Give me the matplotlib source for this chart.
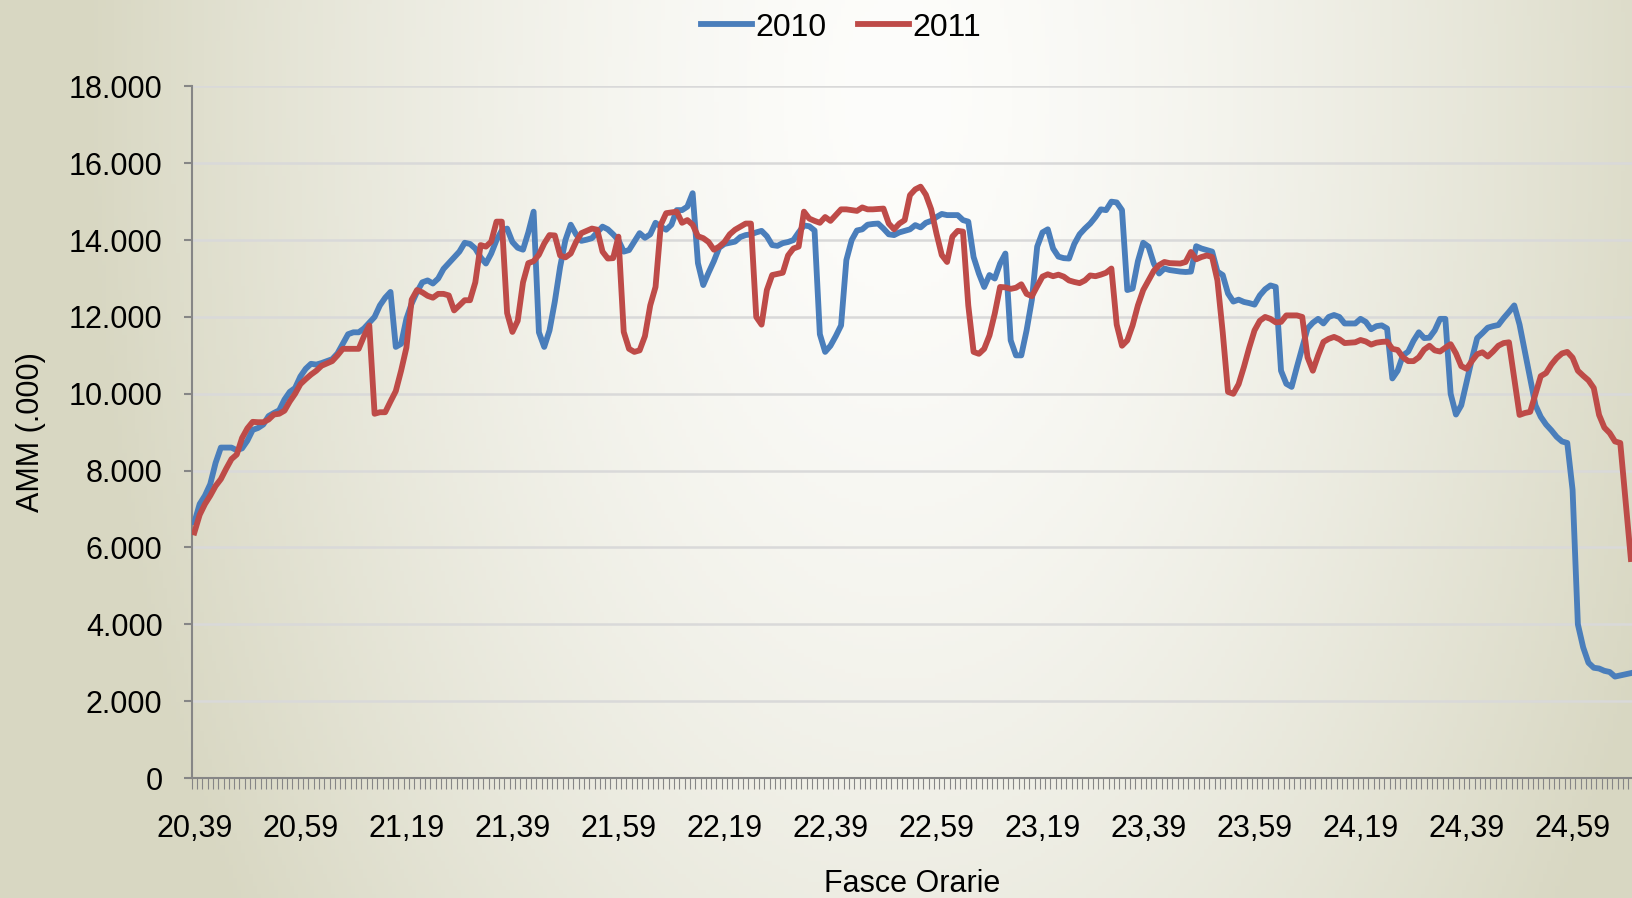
import numpy as np
import matplotlib.pyplot as plt
from matplotlib.ticker import FixedLocator, FuncFormatter

# AMM (.000) minute by minute, from 20,39 on
amm_2010 = [
    6650, 7130, 7350, 7650, 8200, 8600, 8600, 8600, 8530, 8580,
    8780, 9060, 9110, 9200, 9420, 9500, 9570, 9850, 10050, 10150,
    10450, 10650, 10780, 10760, 10800, 10850, 10900, 11050, 11300, 11550, 11600,
    11600, 11700, 11850, 12000, 12300, 12500, 12650, 11220, 11300, 11950,
    12350, 12650, 12900, 12950, 12870, 13000, 13250, 13400, 13550, 13700,
    13930, 13900, 13780, 13550, 13390, 13650, 14000, 14250, 14300, 13950,
    13800, 13750, 14200, 14740, 11600, 11220, 11650, 12400, 13300, 14000,
    14400, 14150, 13980, 14010, 14050, 14200, 14350, 14280, 14150, 14000, 13700,
    13740, 13960, 14180, 14060, 14150, 14450, 14350, 14270, 14400, 14780,
    14780, 14870, 15220, 13400, 12830, 13150, 13450, 13800, 13900, 13930,
    13960, 14080, 14130, 14150, 14200, 14240, 14100, 13870, 13850, 13920,
    13950, 14000, 14200, 14380, 14360, 14250, 11550, 11090, 11250, 11500,
    11780, 13480, 14000, 14250, 14280, 14400, 14420, 14430, 14300, 14150, 14130,
    14200, 14240, 14280, 14390, 14330, 14450, 14500, 14600, 14680, 14650,
    14650, 14650, 14520, 14480, 13560, 13130, 12780, 13090, 13000, 13390,
    13650, 11390, 11000, 11000, 11650, 12450, 13830, 14200, 14280, 13780,
    13570, 13530, 13520, 13900, 14150, 14300, 14430, 14600, 14800, 14780,
    15000, 14980, 14780, 12700, 12740, 13450, 13930, 13830, 13390, 13130,
    13260, 13220, 13200, 13180, 13170, 13180, 13840, 13780, 13740, 13700, 13180,
    13090, 12610, 12400, 12450, 12390, 12360, 12320, 12560, 12720, 12820,
    12780, 10600, 10260, 10180, 10700, 11200, 11700, 11850, 11950, 11830,
    12000, 12050, 12000, 11830, 11830, 11830, 11950, 11870, 11680, 11760, 11780,
    11700, 10400, 10600, 11000, 11100, 11380, 11600, 11450, 11460, 11650,
    11950, 11950, 10000, 9460, 9700, 10300, 10900, 11450, 11580, 11720,
    11760, 11790, 11970, 12130, 12300, 11800, 11100, 10400, 9700, 9400,
    9200, 9050, 8880, 8760, 8720, 7500, 4000, 3400, 3000, 2870,
    2850, 2790, 2760, 2640, 2670, 2700, 2730,
]

amm_2011 = [
    6390, 6850, 7130, 7350, 7600, 7780, 8050, 8300, 8420, 8850,
    9100, 9270, 9260, 9260, 9330, 9460, 9480, 9560, 9800, 10000,
    10250, 10380, 10500, 10600, 10730, 10790, 10850, 11000, 11170, 11170, 11170,
    11170, 11500, 11780, 9480, 9520, 9520, 9800, 10070, 10600, 11200,
    12450, 12700, 12640, 12550, 12500, 12600, 12600, 12560, 12170, 12300,
    12435, 12435, 12900, 13870, 13830, 13960, 14480, 14480, 12100, 11610,
    11900, 12900, 13400, 13450, 13620, 13910, 14130, 14120, 13600, 13550,
    13650, 13950, 14180, 14240, 14300, 14270, 13700, 13520, 13530, 14090, 11610,
    11170, 11090, 11130, 11500, 12300, 12780, 14400, 14700, 14720, 14740,
    14450, 14520, 14400, 14100, 14050, 13950, 13750, 13830, 13950, 14150,
    14270, 14350, 14430, 14430, 12000, 11800, 12700, 13090, 13120, 13150,
    13600, 13780, 13830, 14740, 14560, 14500, 14450, 14600, 14500, 14650,
    14800, 14800, 14780, 14760, 14850, 14800, 14800, 14810, 14820, 14430, 14280,
    14430, 14520, 15170, 15320, 15390, 15180, 14800, 14170, 13610, 13430,
    14090, 14240, 14220, 12300, 11090, 11040, 11170, 11520, 12090, 12780,
    12770, 12730, 12760, 12850, 12600, 12540, 12800, 13050, 13110, 13060,
    13100, 13050, 12950, 12910, 12880, 12950, 13080, 13060, 13100, 13150,
    13260, 11800, 11250, 11390, 11780, 12300, 12700, 12950, 13200, 13350,
    13430, 13400, 13395, 13390, 13430, 13690, 13500, 13560, 13600, 13560, 12950,
    11600, 10050, 10000, 10250, 10700, 11200, 11650, 11900, 12000, 11950,
    11860, 11870, 12040, 12040, 12040, 12000, 10950, 10600, 11000, 11350,
    11430, 11480, 11420, 11320, 11330, 11340, 11400, 11360, 11280, 11330, 11350,
    11360, 11170, 11140, 10950, 10850, 10850, 10950, 11150, 11250, 11130,
    11100, 11200, 11290, 11050, 10720, 10650, 10850, 11030, 11080, 10970,
    11100, 11250, 11320, 11340, 10400, 9450, 9500, 9530, 10000, 10460,
    10540, 10760, 10930, 11050, 11090, 10940, 10600, 10470, 10350, 10150,
    9450, 9120, 8980, 8760, 8720, 7200, 5700,
]

tick_labels = ['20,39', '20,59', '21,19', '21,39', '21,59', '22,19', '22,39',
               '22,59', '23,19', '23,39', '23,59', '24,19', '24,39', '24,59']
label_step = 20

plt.rcParams['font.family'] = ['Liberation Sans', 'DejaVu Sans']

fig = plt.figure(figsize=(16.33, 8.98), dpi=100)

# soft beige-to-white background
bg = fig.add_axes([0, 0, 1, 1], zorder=-10)
gx, gy = np.meshgrid(np.linspace(0, 1, 400), np.linspace(0, 1, 220))
d = np.sqrt(((gx - 0.55) / 0.5) ** 2 + ((gy - 0.1) / 1.6) ** 2)
t = np.clip(d, 0, 1) ** 1.5
c_in = np.array([253, 253, 251]) / 255
c_out = np.array([216, 215, 194]) / 255
img = c_in[None, None, :] * (1 - t[..., None]) + c_out[None, None, :] * t[..., None]
bg.imshow(img, aspect='auto', extent=[0, 1, 0, 1], origin='upper')
bg.axis('off')

ax = fig.add_axes([0.1174, 0.1336, 0.8826, 0.7702])
ax.set_facecolor('none')

ax.plot(np.arange(len(amm_2010)), amm_2010, color='#4A7EBB', lw=4.2, label='2010',
        solid_joinstyle='round', zorder=3)
ax.plot(np.arange(len(amm_2011)), amm_2011, color='#BE4B48', lw=4.2, label='2011',
        solid_joinstyle='round', zorder=4)

ax.set_xlim(-0.5, 271.4)
ax.set_ylim(0, 18000)
ax.set_yticks(np.arange(0, 18001, 2000))
ax.yaxis.set_major_formatter(FuncFormatter(lambda v, p: f'{int(v):,}'.replace(',', '.')))
ax.grid(axis='y', color='#D9D9D9', lw=1.8, zorder=0)
ax.set_axisbelow(True)

ax.xaxis.set_major_locator(FixedLocator(np.arange(len(tick_labels)) * label_step))
ax.set_xticklabels(tick_labels)
ax.xaxis.set_minor_locator(FixedLocator(np.arange(-0.5, 272, 1)))
ax.tick_params(axis='x', which='major', length=0, pad=26, labelsize=22)
ax.tick_params(axis='x', which='minor', length=8, width=0.8, color='#868686', direction='out')
ax.tick_params(axis='y', length=6, width=1.5, color='#868686', pad=15, labelsize=22)

for s in ['top', 'right']:
    ax.spines[s].set_visible(False)
for s in ['left', 'bottom']:
    ax.spines[s].set_color('#868686')
    ax.spines[s].set_linewidth(1.5)

ax.set_xlabel('Fasce Orarie', fontsize=22, labelpad=18)
ax.set_ylabel('AMM (.000)', fontsize=22, labelpad=16)

fig.legend(loc='upper center', bbox_to_anchor=(0.515, 1.018), ncol=2, frameon=False,
           fontsize=23, handlelength=1.6, handletextpad=0.1, columnspacing=1.0)

fig.savefig('out.png', dpi=100)
